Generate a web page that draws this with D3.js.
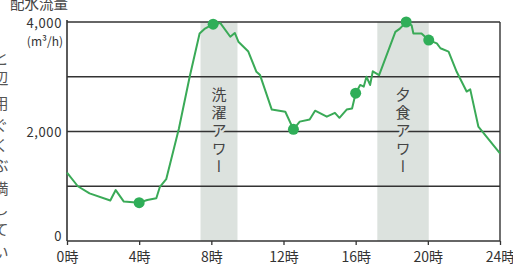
<!DOCTYPE html>
<html>
<head>
<meta charset="utf-8">
<script src="https://cdn.jsdelivr.net/npm/d3@7"></script>
<style>
  html, body { margin: 0; padding: 0; background: #fff; }
  svg { display: block; font-family: "Noto Sans CJK JP", "Noto Sans", sans-serif; }
</style>
</head>
<body>
<script>
// Data
const hours = [0, 0.6, 1.25, 2.4, 2.7, 3.15, 4, 4.45, 4.95, 5.15, 5.5, 6.2, 6.8, 7.35, 7.65, 8.1, 8.5,
  9.05, 9.3, 9.5, 10.05, 10.5, 10.7, 11.35, 12.1, 12.55, 12.9, 13.45, 13.75, 14.4, 14.85, 15.1,
  15.5, 15.8, 16, 16.25, 16.45, 16.6, 16.8, 16.95, 17.3, 18.2, 18.45, 18.8, 19.1, 19.2, 19.65,
  20.05, 20.5, 20.7, 21.15, 21.6, 22.15, 22.35, 22.8, 24];
const flow = [1250, 1000, 870, 740, 930, 720, 700, 750, 780, 990, 1130, 2050, 3000, 3790, 3880, 3960, 3980,
  3730, 3800, 3640, 3460, 3090, 3030, 2400, 2360, 2040, 2180, 2220, 2380, 2270, 2340, 2250,
  2400, 2420, 2700, 2850, 2820, 3000, 2850, 3100, 3030, 3820, 3880, 4000, 3940, 3790, 3790,
  3670, 3610, 3520, 3460, 3090, 2730, 2770, 2090, 1600];
const dotHours = [4, 8.1, 12.55, 16, 18.8, 20.05];

const bandStart = [7.4, 17.2];
const bandEnd = [9.45, 20.05];
const bandLabels = ['洗濯アワー', '夕食アワー'];

const xTicks = [0, 4, 8, 12, 16, 20, 24];
const gridValues = [1000, 2000, 3000, 4000];
const yLabelValues = [4000, 2000, 0];
const yLabelTexts = ['4,000', '2,000', '0'];

// cut-off text of the book page on the left edge
const edgeChars = ['と', '辺', '用', 'ぐ', 'く', 'ぶ', '満', 'し', 'て', 'い'];
const edgeY = [57, 77, 102, 124, 144, 164, 187, 207, 228, 251];

const width = 513;
const height = 271;

const svg = d3.select('body')
  .append('svg')
  .attr('width', width)
  .attr('height', height);

const x = d3.scaleLinear().domain([0, 24]).range([67, 500]);
const y = d3.scaleLinear().domain([0, 4000]).range([241, 22]);

const bandColor = '#dce2de';
const green = '#3aaa57';
const ink = '#333';

// edge text
svg.selectAll('text.edge')
  .data(edgeChars)
  .enter()
  .append('text')
  .attr('class', 'edge')
  .attr('x', 1)
  .attr('y', (d, i) => edgeY[i])
  .attr('text-anchor', 'middle')
  .attr('dominant-baseline', 'central')
  .attr('font-size', 15)
  .attr('fill', '#555')
  .text(d => d);

// shaded hours
svg.selectAll('rect.band')
  .data(bandLabels)
  .enter()
  .append('rect')
  .attr('class', 'band')
  .attr('x', (d, i) => x(bandStart[i]))
  .attr('width', (d, i) => x(bandEnd[i]) - x(bandStart[i]))
  .attr('y', y(4000))
  .attr('height', y(0) - y(4000))
  .attr('fill', bandColor);

// grid lines
svg.selectAll('line.grid')
  .data(gridValues)
  .enter()
  .append('line')
  .attr('class', 'grid')
  .attr('x1', x(0))
  .attr('x2', x(24))
  .attr('y1', d => y(d))
  .attr('y2', d => y(d))
  .attr('stroke', ink)
  .attr('stroke-width', 1.4);

// band labels (vertical), masking the grid line behind them
svg.selectAll('text.bandlabel')
  .data(bandLabels)
  .enter()
  .append('text')
  .attr('class', 'bandlabel')
  .attr('x', (d, i) => (x(bandStart[i]) + x(bandEnd[i])) / 2)
  .attr('y', 87)
  .style('writing-mode', 'vertical-rl')
  .attr('font-size', 15)
  .attr('letter-spacing', 3)
  .attr('fill', '#444')
  .attr('stroke', bandColor)
  .attr('stroke-width', 5)
  .attr('paint-order', 'stroke')
  .text(d => d);

// frame
svg.append('line')
  .attr('x1', x(0)).attr('x2', x(0))
  .attr('y1', 20).attr('y2', y(0))
  .attr('stroke', ink).attr('stroke-width', 1.6);
svg.append('line')
  .attr('x1', x(24)).attr('x2', x(24))
  .attr('y1', y(4000)).attr('y2', y(0))
  .attr('stroke', ink).attr('stroke-width', 1.4);

// x axis
const xAxis = d3.axisBottom(x)
  .tickValues(xTicks)
  .tickSize(4)
  .tickPadding(7)
  .tickFormat(d => d + '時');

const gx = svg.append('g')
  .attr('transform', `translate(0, ${y(0)})`)
  .call(xAxis);
gx.select('.domain')
  .attr('stroke', ink)
  .attr('stroke-width', 1.6)
  .attr('d', `M${x(0)},0H${x(24)}`);
gx.selectAll('.tick line').attr('stroke', ink).attr('stroke-width', 1.3);
gx.selectAll('.tick text')
  .attr('font-size', 14)
  .attr('font-family', '"Noto Sans CJK JP", sans-serif')
  .attr('fill', ink);

// y labels
svg.selectAll('text.ylab')
  .data(yLabelValues)
  .enter()
  .append('text')
  .attr('class', 'ylab')
  .attr('x', 62)
  .attr('y', d => d === 0 ? y(d) - 6 : y(d))
  .attr('text-anchor', 'end')
  .attr('dominant-baseline', 'central')
  .attr('font-size', 13)
  .attr('letter-spacing', 0.6)
  .attr('fill', ink)
  .text((d, i) => yLabelTexts[i]);

svg.append('text')
  .attr('x', 63)
  .attr('y', 40)
  .attr('text-anchor', 'end')
  .attr('dominant-baseline', 'central')
  .attr('font-size', 12)
  .attr('fill', ink)
  .text('(m³/h)');

svg.append('text')
  .attr('x', 68)
  .attr('y', 9)
  .attr('text-anchor', 'end')
  .attr('font-size', 14.5)
  .attr('fill', '#444')
  .text('配水流量');

// flow line
const line = d3.line()
  .x((d, i) => x(hours[i]))
  .y(d => y(d));

svg.append('path')
  .datum(flow)
  .attr('d', line)
  .attr('fill', 'none')
  .attr('stroke', green)
  .attr('stroke-width', 2)
  .attr('stroke-linejoin', 'round');

// marker dots
svg.selectAll('circle.dot')
  .data(dotHours)
  .enter()
  .append('circle')
  .attr('class', 'dot')
  .attr('cx', d => x(d))
  .attr('cy', d => y(flow[hours.indexOf(d)]))
  .attr('r', 5.5)
  .attr('fill', '#2fae58');
</script>
</body>
</html>
